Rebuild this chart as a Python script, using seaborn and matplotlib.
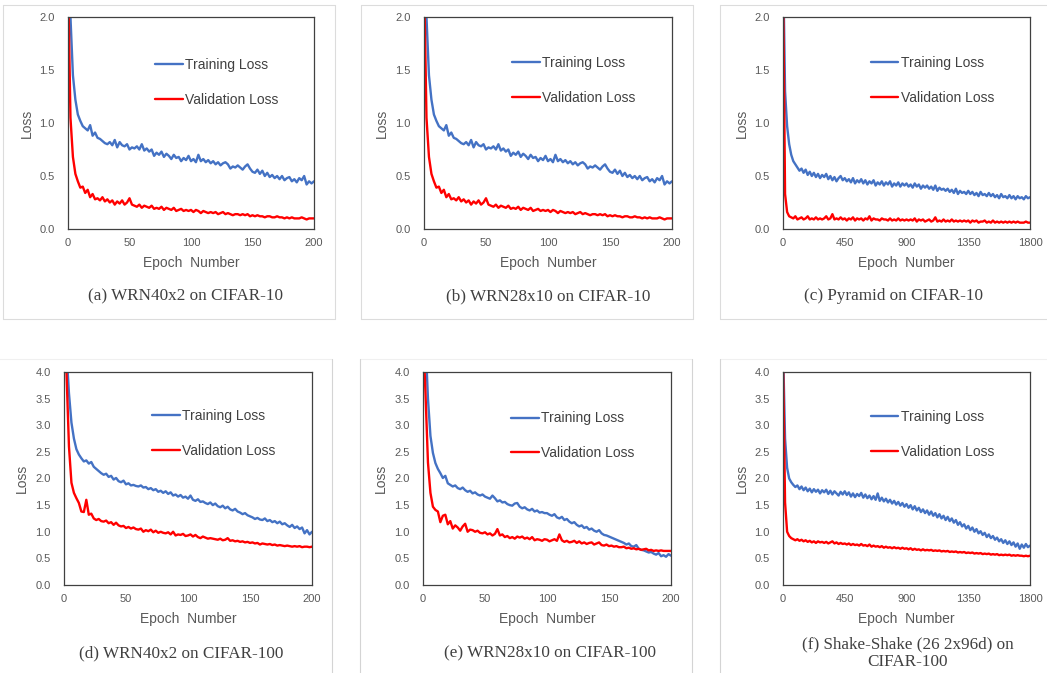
import numpy as np
import matplotlib
matplotlib.use("Agg")
import matplotlib.pyplot as plt
from matplotlib.lines import Line2D
from matplotlib.ticker import FormatStrFormatter
import seaborn as sns

# ---------------- data ----------------
# 200-epoch runs, one value every 2 epochs (0..200)
wrn40_c10_train = [
    2.60, 2.00, 1.45, 1.22, 1.08, 1.02, 0.97, 0.95, 0.93, 0.98,
    0.88, 0.91, 0.86, 0.85, 0.83, 0.81, 0.80, 0.82, 0.79, 0.84,
    0.77, 0.82, 0.79, 0.78, 0.80, 0.75, 0.77, 0.76, 0.78, 0.75,
    0.80, 0.74, 0.76, 0.73, 0.75, 0.69, 0.72, 0.70, 0.73, 0.68,
    0.71, 0.69, 0.66, 0.70, 0.67, 0.68, 0.64, 0.67, 0.65, 0.69,
    0.64, 0.66, 0.63, 0.70, 0.64, 0.66, 0.63, 0.65, 0.62, 0.64,
    0.61, 0.63, 0.60, 0.62, 0.63, 0.61, 0.57, 0.59, 0.58, 0.60,
    0.58, 0.56, 0.59, 0.61, 0.57, 0.54, 0.53, 0.56, 0.52, 0.55,
    0.50, 0.53, 0.49, 0.51, 0.48, 0.50, 0.47, 0.50, 0.46, 0.48,
    0.49, 0.45, 0.47, 0.44, 0.48, 0.46, 0.50, 0.42, 0.45, 0.43,
    0.45]
wrn40_c10_val = [
    2.40, 1.05, 0.68, 0.52, 0.45, 0.39, 0.40, 0.34, 0.37, 0.30,
    0.33, 0.28, 0.29, 0.27, 0.30, 0.26, 0.28, 0.25, 0.27, 0.23,
    0.26, 0.24, 0.27, 0.23, 0.25, 0.29, 0.23, 0.22, 0.21, 0.23,
    0.20, 0.22, 0.21, 0.20, 0.22, 0.19, 0.20, 0.19, 0.21, 0.18,
    0.20, 0.19, 0.18, 0.20, 0.17, 0.18, 0.19, 0.17, 0.18, 0.17,
    0.18, 0.16, 0.18, 0.17, 0.15, 0.17, 0.16, 0.15, 0.16, 0.15,
    0.16, 0.14, 0.15, 0.16, 0.14, 0.15, 0.14, 0.13, 0.14, 0.14,
    0.13, 0.14, 0.13, 0.14, 0.12, 0.13, 0.12, 0.13, 0.12, 0.12,
    0.11, 0.12, 0.12, 0.11, 0.11, 0.12, 0.11, 0.11, 0.10, 0.11,
    0.10, 0.11, 0.10, 0.10, 0.10, 0.11, 0.10, 0.09, 0.10, 0.10,
    0.10]
# panel (b) in the source shows the same curves as panel (a)
wrn28_c10_train = list(wrn40_c10_train)
wrn28_c10_val = list(wrn40_c10_val)

wrn40_c100_train = [
    5.20, 4.40, 3.60, 3.05, 2.75, 2.55, 2.45, 2.38, 2.32, 2.34,
    2.28, 2.31, 2.22, 2.18, 2.14, 2.10, 2.07, 2.09, 2.03, 2.05,
    1.98, 2.01, 1.95, 1.93, 1.96, 1.89, 1.91, 1.87, 1.88, 1.86,
    1.85, 1.87, 1.83, 1.84, 1.80, 1.82, 1.78, 1.80, 1.75, 1.77,
    1.73, 1.76, 1.71, 1.74, 1.68, 1.70, 1.66, 1.69, 1.64, 1.66,
    1.62, 1.68, 1.60, 1.58, 1.61, 1.56, 1.57, 1.54, 1.52, 1.55,
    1.50, 1.53, 1.48, 1.46, 1.49, 1.44, 1.47, 1.42, 1.40, 1.43,
    1.38, 1.36, 1.33, 1.35, 1.31, 1.29, 1.27, 1.24, 1.26, 1.23,
    1.22, 1.25, 1.20, 1.22, 1.18, 1.20, 1.16, 1.19, 1.14, 1.16,
    1.12, 1.09, 1.13, 1.07, 1.10, 1.05, 1.08, 0.97, 1.03, 0.95,
    1.00]
wrn40_c100_val = [
    5.50, 4.00, 2.60, 1.92, 1.73, 1.63, 1.54, 1.38, 1.37, 1.60,
    1.32, 1.34, 1.25, 1.22, 1.24, 1.20, 1.19, 1.21, 1.16, 1.18,
    1.13, 1.17, 1.12, 1.10, 1.11, 1.07, 1.09, 1.06, 1.08, 1.05,
    1.04, 1.06, 1.00, 1.03, 1.01, 1.04, 0.99, 1.02, 0.98, 1.00,
    0.98, 0.97, 0.99, 0.95, 1.00, 0.93, 0.95, 0.94, 0.96, 0.92,
    0.93, 0.95, 0.91, 0.94, 0.90, 0.88, 0.91, 0.89, 0.87, 0.88,
    0.87, 0.86, 0.85, 0.87, 0.84, 0.85, 0.88, 0.83, 0.84, 0.82,
    0.83, 0.81, 0.82, 0.80, 0.81, 0.79, 0.80, 0.78, 0.79, 0.76,
    0.78, 0.77, 0.76, 0.77, 0.75, 0.76, 0.74, 0.75, 0.74, 0.73,
    0.74, 0.73, 0.72, 0.73, 0.72, 0.73, 0.71, 0.72, 0.72, 0.71,
    0.72]
wrn28_c100_train = [
    5.30, 4.60, 3.50, 2.80, 2.48, 2.29, 2.18, 2.10, 2.01, 2.05,
    1.91, 1.88, 1.85, 1.87, 1.82, 1.80, 1.83, 1.78, 1.75, 1.77,
    1.72, 1.74, 1.70, 1.68, 1.70, 1.66, 1.64, 1.62, 1.68, 1.63,
    1.57, 1.59, 1.55, 1.56, 1.52, 1.50, 1.49, 1.53, 1.54, 1.47,
    1.44, 1.46, 1.42, 1.40, 1.43, 1.38, 1.40, 1.36, 1.37, 1.35,
    1.35, 1.32, 1.30, 1.33, 1.27, 1.25, 1.28, 1.22, 1.24, 1.19,
    1.16, 1.18, 1.13, 1.10, 1.12, 1.07, 1.09, 1.04, 1.06, 1.02,
    1.00, 1.03, 0.97, 0.94, 0.93, 0.91, 0.89, 0.87, 0.85, 0.83,
    0.81, 0.79, 0.76, 0.78, 0.73, 0.72, 0.75, 0.68, 0.66, 0.65,
    0.63, 0.61, 0.62, 0.59, 0.57, 0.60, 0.54, 0.56, 0.53, 0.58,
    0.55]
wrn28_c100_val = [
    4.80, 3.60, 2.30, 1.73, 1.47, 1.41, 1.38, 1.18, 1.30, 1.32,
    1.14, 1.20, 1.06, 1.12, 1.08, 1.02, 1.10, 1.15, 1.00, 1.04,
    1.03, 1.00, 1.02, 0.98, 0.97, 0.99, 0.95, 0.97, 0.93, 0.96,
    1.05, 0.93, 0.95, 0.90, 0.92, 0.88, 0.90, 0.87, 0.91, 0.89,
    0.91, 0.87, 0.89, 0.86, 0.90, 0.84, 0.86, 0.85, 0.83, 0.86,
    0.85, 0.82, 0.84, 0.86, 0.83, 0.95, 0.84, 0.81, 0.83, 0.80,
    0.81, 0.83, 0.79, 0.82, 0.78, 0.80, 0.77, 0.79, 0.80, 0.76,
    0.78, 0.80, 0.75, 0.74, 0.76, 0.73, 0.74, 0.72, 0.73, 0.71,
    0.71, 0.72, 0.69, 0.70, 0.68, 0.69, 0.67, 0.68, 0.66, 0.67,
    0.68, 0.65, 0.66, 0.64, 0.65, 0.64, 0.65, 0.64, 0.64, 0.64,
    0.64]

# 1800-epoch runs, one value every 15 epochs (0..1800)
pyramid_c10_train = [
    2.60, 1.30, 0.97, 0.80, 0.70, 0.64, 0.61, 0.58, 0.55, 0.57,
    0.53, 0.56, 0.51, 0.54, 0.50, 0.53, 0.49, 0.52, 0.48, 0.51,
    0.49, 0.52, 0.47, 0.50, 0.46, 0.49, 0.45, 0.48, 0.50, 0.46,
    0.48, 0.45, 0.47, 0.44, 0.48, 0.43, 0.46, 0.44, 0.47, 0.43,
    0.46, 0.42, 0.45, 0.43, 0.46, 0.41, 0.44, 0.42, 0.45, 0.41,
    0.44, 0.42, 0.45, 0.40, 0.43, 0.41, 0.44, 0.40, 0.43, 0.41,
    0.43, 0.40, 0.42, 0.39, 0.43, 0.40, 0.42, 0.38, 0.41, 0.39,
    0.41, 0.38, 0.40, 0.37, 0.41, 0.36, 0.39, 0.37, 0.38, 0.36,
    0.38, 0.35, 0.37, 0.34, 0.38, 0.33, 0.36, 0.34, 0.35, 0.33,
    0.36, 0.33, 0.35, 0.32, 0.34, 0.31, 0.35, 0.32, 0.33, 0.31,
    0.34, 0.31, 0.33, 0.30, 0.32, 0.29, 0.33, 0.30, 0.31, 0.29,
    0.32, 0.29, 0.31, 0.28, 0.31, 0.29, 0.30, 0.28, 0.31, 0.29,
    0.30]
pyramid_c10_val = [
    2.40, 0.33, 0.16, 0.12, 0.11, 0.10, 0.12, 0.09, 0.10, 0.11,
    0.09, 0.10, 0.12, 0.09, 0.10, 0.09, 0.11, 0.09, 0.10, 0.09,
    0.10, 0.12, 0.09, 0.10, 0.14, 0.09, 0.10, 0.09, 0.11, 0.09,
    0.10, 0.08, 0.10, 0.09, 0.11, 0.08, 0.10, 0.09, 0.10, 0.08,
    0.10, 0.09, 0.12, 0.08, 0.10, 0.09, 0.09, 0.08, 0.10, 0.09,
    0.09, 0.08, 0.10, 0.08, 0.09, 0.08, 0.10, 0.08, 0.09, 0.08,
    0.09, 0.08, 0.09, 0.08, 0.10, 0.07, 0.09, 0.08, 0.09, 0.07,
    0.08, 0.09, 0.07, 0.08, 0.11, 0.07, 0.08, 0.07, 0.09, 0.07,
    0.08, 0.07, 0.09, 0.07, 0.08, 0.07, 0.08, 0.07, 0.08, 0.07,
    0.08, 0.06, 0.08, 0.07, 0.08, 0.06, 0.07, 0.07, 0.08, 0.06,
    0.07, 0.06, 0.08, 0.06, 0.07, 0.06, 0.07, 0.06, 0.07, 0.06,
    0.07, 0.06, 0.07, 0.06, 0.07, 0.06, 0.06, 0.06, 0.07, 0.06,
    0.06]
shake_c100_train = [
    4.50, 2.75, 2.20, 2.00, 1.93, 1.88, 1.84, 1.87, 1.80, 1.85,
    1.78, 1.83, 1.76, 1.81, 1.74, 1.80, 1.75, 1.79, 1.72, 1.78,
    1.74, 1.79, 1.71, 1.77, 1.70, 1.76, 1.72, 1.68, 1.75, 1.70,
    1.76, 1.69, 1.74, 1.66, 1.72, 1.65, 1.71, 1.67, 1.73, 1.64,
    1.70, 1.63, 1.68, 1.61, 1.67, 1.60, 1.72, 1.58, 1.64, 1.57,
    1.62, 1.55, 1.60, 1.53, 1.58, 1.51, 1.56, 1.49, 1.54, 1.47,
    1.52, 1.45, 1.50, 1.42, 1.48, 1.40, 1.45, 1.37, 1.42, 1.35,
    1.40, 1.32, 1.38, 1.30, 1.35, 1.27, 1.33, 1.25, 1.30, 1.22,
    1.28, 1.20, 1.25, 1.17, 1.22, 1.13, 1.18, 1.10, 1.14, 1.06,
    1.11, 1.03, 1.08, 1.00, 1.05, 0.97, 1.01, 0.94, 0.98, 0.90,
    0.95, 0.88, 0.92, 0.85, 0.89, 0.82, 0.86, 0.79, 0.84, 0.77,
    0.82, 0.75, 0.80, 0.72, 0.78, 0.68, 0.76, 0.70, 0.77, 0.71,
    0.74]
shake_c100_val = [
    4.30, 1.55, 1.00, 0.92, 0.88, 0.86, 0.84, 0.86, 0.83, 0.85,
    0.82, 0.84, 0.81, 0.83, 0.80, 0.82, 0.79, 0.82, 0.80, 0.81,
    0.79, 0.81, 0.78, 0.80, 0.82, 0.78, 0.80, 0.77, 0.79, 0.77,
    0.78, 0.76, 0.78, 0.75, 0.77, 0.75, 0.76, 0.74, 0.77, 0.74,
    0.75, 0.73, 0.76, 0.72, 0.74, 0.72, 0.73, 0.71, 0.73, 0.70,
    0.72, 0.70, 0.71, 0.69, 0.71, 0.69, 0.70, 0.68, 0.70, 0.68,
    0.69, 0.67, 0.69, 0.66, 0.68, 0.66, 0.67, 0.65, 0.67, 0.65,
    0.66, 0.65, 0.66, 0.64, 0.65, 0.64, 0.65, 0.63, 0.64, 0.63,
    0.64, 0.62, 0.63, 0.62, 0.63, 0.61, 0.62, 0.61, 0.62, 0.60,
    0.61, 0.60, 0.61, 0.59, 0.60, 0.59, 0.60, 0.58, 0.59, 0.58,
    0.59, 0.57, 0.58, 0.57, 0.58, 0.56, 0.57, 0.56, 0.57, 0.56,
    0.57, 0.55, 0.56, 0.55, 0.56, 0.55, 0.55, 0.54, 0.55, 0.54,
    0.55]

ticks_200 = [0, 50, 100, 150, 200]
ticks_1800 = [0, 450, 900, 1350, 1800]
yticks_2 = [0.0, 0.5, 1.0, 1.5, 2.0]
yticks_4 = [0.0, 0.5, 1.0, 1.5, 2.0, 2.5, 3.0, 3.5, 4.0]

captions = [
    "(a) WRN40x2 on CIFAR-10",
    "(b) WRN28x10 on CIFAR-10",
    "(c) Pyramid on CIFAR-10",
    "(d) WRN40x2 on CIFAR-100",
    "(e) WRN28x10 on CIFAR-100",
    "(f) Shake-Shake (26 2x96d) on\nCIFAR-100",
]
series_labels = ["Training Loss", "Validation Loss"]
x_label = "Epoch  Number"
y_label = "Loss"

# ---------------- style ----------------
sns.set_theme(style="white")
plt.rcParams['font.family'] = ['Liberation Sans', 'DejaVu Sans']

BLUE = "#4472C4"
RED = "#FF0000"
TXT = "#595959"

W, H = 1047, 673
fig = plt.figure(figsize=(W / 100, H / 100), dpi=100)


def fig_rect(l, t, r, b):
    return [l / W, 1 - b / H, (r - l) / W, (b - t) / H]


def fig_line(x0, y0, x1, y1, color):
    fig.add_artist(Line2D([x0 / W, x1 / W], [1 - y0 / H, 1 - y1 / H],
                          transform=fig.transFigure, color=color, lw=0.8))


# panel frames (light boxes around each sub-figure)
for l, r in [(3, 335), (361, 693), (720, 1050)]:
    fig_line(l, 5, r, 5, "#dcdcdc")
    fig_line(l, 319, r, 319, "#dcdcdc")
    fig_line(l, 5, l, 319, "#dcdcdc")
    fig_line(r, 5, r, 319, "#dcdcdc")
for l, r in [(-2, 332), (360, 692), (720, 1050)]:
    fig_line(l, 359, r, 359, "#f0f0f0")
    fig_line(l, 359, l, 680, "#d4d4d4")
    fig_line(r, 359, r, 680, "#d4d4d4")

panels = [
    dict(pos=(68, 17, 314, 229), tr=wrn40_c10_train, va=wrn40_c10_val, xmax=200,
         xt=ticks_200, ymax=2.0, yt=yticks_2, cap=(185, 296), leg_y=0.805),
    dict(pos=(424, 17, 672, 229), tr=wrn28_c10_train, va=wrn28_c10_val, xmax=200,
         xt=ticks_200, ymax=2.0, yt=yticks_2, cap=(548, 296), leg_y=0.815),
    dict(pos=(783, 17, 1030, 229), tr=pyramid_c10_train, va=pyramid_c10_val, xmax=1800,
         xt=ticks_1800, ymax=2.0, yt=yticks_2, cap=(893, 296), leg_y=0.815),
    dict(pos=(64, 372, 312, 585), tr=wrn40_c100_train, va=wrn40_c100_val, xmax=200,
         xt=ticks_200, ymax=4.0, yt=yticks_4, cap=(181, 653), leg_y=0.825),
    dict(pos=(423, 372, 671, 585), tr=wrn28_c100_train, va=wrn28_c100_val, xmax=200,
         xt=ticks_200, ymax=4.0, yt=yticks_4, cap=(550, 653), leg_y=0.815),
    dict(pos=(783, 372, 1030, 585), tr=shake_c100_train, va=shake_c100_val, xmax=1800,
         xt=ticks_1800, ymax=4.0, yt=yticks_4, cap=(908, 653), leg_y=0.82),
]

for p, cap in zip(panels, captions):
    ax = fig.add_axes(fig_rect(*p["pos"]))
    ep_tr = np.linspace(0, p["xmax"], len(p["tr"]))
    ep_va = np.linspace(0, p["xmax"], len(p["va"]))
    sns.lineplot(x=ep_tr, y=p["tr"], ax=ax, color=BLUE, linewidth=1.7,
                 label=series_labels[0])
    sns.lineplot(x=ep_va, y=p["va"], ax=ax, color=RED, linewidth=1.7,
                 label=series_labels[1])
    ax.set_xlim(0, p["xmax"])
    ax.set_ylim(0, p["ymax"])
    ax.set_xticks(p["xt"])
    ax.set_yticks(p["yt"])
    ax.yaxis.set_major_formatter(FormatStrFormatter("%.1f"))
    ax.tick_params(axis="both", length=0, labelsize=8.0, labelcolor=TXT)
    ax.tick_params(axis="y", pad=9.5)
    ax.tick_params(axis="x", pad=6.5)
    for s in ax.spines.values():
        s.set_color("#404040")
        s.set_linewidth(0.9)
    ax.grid(False)
    ax.set_xlabel(x_label, fontsize=10, color=TXT)
    ax.set_ylabel(y_label, fontsize=10, color=TXT)
    ax.xaxis.set_label_coords(0.5, -0.128)
    ax.yaxis.set_label_coords(-0.14, 0.5)
    leg = ax.legend(loc="upper left", bbox_to_anchor=(0.355, p["leg_y"]), frameon=False,
                    fontsize=10, handlelength=2.0, handletextpad=0.15,
                    labelspacing=1.5, borderpad=0, borderaxespad=0)
    for t in leg.get_texts():
        t.set_color("#404040")
    for h in leg.get_lines():
        h.set_linewidth(1.7)
    fig.text(p["cap"][0] / W, 1 - p["cap"][1] / H, cap, ha="center", va="center",
             family=["Liberation Serif", "DejaVu Serif"], fontsize=12.3,
             color="#404040", linespacing=1.1)

fig.savefig("out.png", dpi=100)
